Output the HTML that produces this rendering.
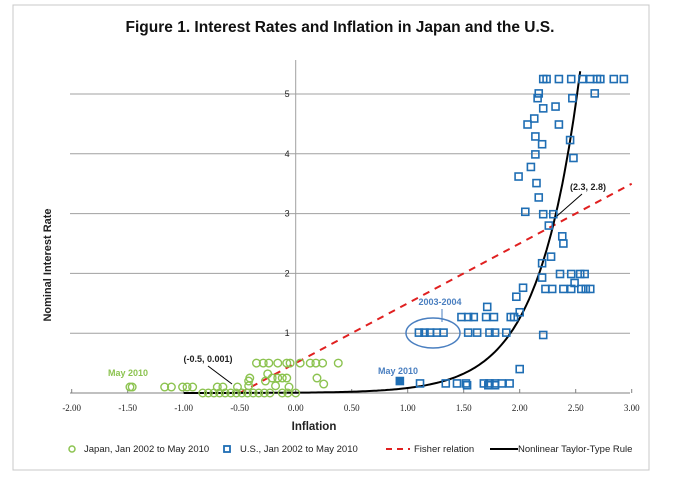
<!DOCTYPE html>
<html><head><meta charset="utf-8"><style>
body{margin:0;background:#fff;}
svg{display:block;font-family:"Liberation Sans",sans-serif;}
</style></head><body>
<svg width="677" height="481" viewBox="0 0 677 481">
<rect x="13" y="5" width="636" height="465" fill="#fff" stroke="#c8c8c8"/>
<text x="340" y="32" text-anchor="middle" font-size="15.5" font-weight="bold" fill="#111">Figure 1.  Interest Rates and Inflation in Japan and the U.S.</text>
<g id="grid"></g>
<g id="axes"></g>
<g id="lines"></g>
<g id="pts"></g>
<text transform="translate(51,265) rotate(-90)" text-anchor="middle" font-size="11" font-weight="bold" fill="#222">Nominal Interest Rate</text>
<text x="314" y="430" text-anchor="middle" font-size="11.5" font-weight="bold" fill="#222">Inflation</text>
<g font-size="9" fill="#222">
<text x="128" y="376" text-anchor="middle" fill="#8cc350" font-weight="bold">May 2010</text>
<text x="208" y="362" text-anchor="middle" font-weight="bold">(-0.5, 0.001)</text>
<line x1="208" y1="366" x2="232" y2="384" stroke="#000"/>
<text x="398" y="374" text-anchor="middle" fill="#4a7fc0" font-weight="bold">May 2010</text>
<text x="440" y="305" text-anchor="middle" fill="#4a7fc0" font-weight="bold">2003-2004</text>
<line x1="442" y1="309" x2="442" y2="322" stroke="#4a7fc0"/>
<ellipse cx="433" cy="333" rx="27" ry="15" fill="none" stroke="#4a7fc0" stroke-width="1.5"/>
<text x="588" y="190" text-anchor="middle" font-weight="bold">(2.3, 2.8)</text>
<line x1="582" y1="194" x2="557" y2="216" stroke="#000"/>
</g>
<g font-size="9.5" fill="#222">
<circle cx="72" cy="449" r="3" fill="none" stroke="#8cc350" stroke-width="1.5"/>
<text x="84" y="452">Japan, Jan 2002 to May 2010</text>
<rect x="224" y="446" width="6" height="6" fill="none" stroke="#1f6eb4" stroke-width="1.8"/>
<text x="240" y="452">U.S., Jan 2002 to May 2010</text>
<line x1="386" y1="449" x2="410" y2="449" stroke="#e02020" stroke-width="2" stroke-dasharray="6,5"/>
<text x="414" y="452">Fisher relation</text>
<line x1="490" y1="449" x2="518" y2="449" stroke="#000" stroke-width="2"/>
<text x="518" y="452">Nonlinear Taylor-Type Rule</text>
</g>
</svg>
<script>
const xTicks=[-2,-1.5,-1,-0.5,0,0.5,1,1.5,2,2.5,3];
const xTickLabels=["-2.00","-1.50","-1.00","-0.50","0.00","0.50","1.00","1.50","2.00","2.50","3.00"];
const yTicks=[0,1,2,3,4,5];
const japanX=[-0.35,-0.29,-0.24,-0.16,-0.08,-0.05,0.04,0.13,0.18,0.24,0.38,-1.48,-1.46,-1.17,-1.11,-1.01,-0.97,-0.92,-0.70,-0.65,-0.52,-0.42,-0.18,-0.06,-0.83,-0.78,-0.73,-0.68,-0.63,-0.58,-0.53,-0.48,-0.43,-0.38,-0.33,-0.28,-0.23,-0.12,-0.07,0.00,-0.41,-0.21,-0.16,-0.12,-0.08,0.19,-0.25,0.25,-0.42,-0.27];
const japanY=[0.5,0.5,0.5,0.5,0.5,0.5,0.5,0.5,0.5,0.5,0.5,0.1,0.1,0.1,0.1,0.1,0.1,0.1,0.1,0.1,0.1,0.12,0.12,0.1,0,0,0,0,0,0,0,0,0,0,0,0,0,0,0,0,0.25,0.25,0.25,0.25,0.25,0.25,0.32,0.15,0.2,0.2];
const usX=[2.21,2.24,2.35,2.46,2.56,2.63,2.69,2.72,2.84,2.93,2.17,2.67,2.16,2.47,2.21,2.32,2.13,2.07,2.35,2.14,2.45,2.20,2.14,2.48,2.10,1.99,2.15,2.17,2.05,2.21,2.30,2.26,2.38,2.39,2.28,2.20,2.36,2.46,2.54,2.58,2.20,2.49,2.23,2.29,2.39,2.46,2.55,2.59,2.63,2.03,1.97,1.71,2.00,1.48,1.54,1.59,1.70,1.77,1.92,1.95,1.10,1.15,1.20,1.26,1.32,1.54,1.62,1.73,1.78,1.88,2.21,2.00,0.93,1.11,1.34,1.44,1.52,1.68,1.73,1.78,1.84,1.91,1.53,1.72,1.78];
const usY=[5.25,5.25,5.25,5.25,5.25,5.25,5.25,5.25,5.25,5.25,5.01,5.01,4.93,4.93,4.76,4.79,4.59,4.49,4.49,4.29,4.23,4.16,3.99,3.93,3.78,3.62,3.51,3.27,3.03,2.99,2.99,2.8,2.62,2.5,2.28,2.17,1.99,1.99,1.99,1.99,1.93,1.84,1.74,1.74,1.74,1.74,1.74,1.74,1.74,1.76,1.61,1.44,1.35,1.27,1.27,1.27,1.27,1.27,1.27,1.27,1.01,1.01,1.01,1.01,1.01,1.01,1.01,1.01,1.01,1.01,0.97,0.4,0.2,0.16,0.16,0.16,0.16,0.16,0.16,0.16,0.16,0.16,0.13,0.13,0.13];
const fisherX=[-0.5,3];
const taylorA=0.00038, taylorB=2.7;
const NS="http://www.w3.org/2000/svg";
const sx=v=>295.7+v*112, sy=v=>393-v*59.8;
function mk(t,a,p){const e=document.createElementNS(NS,t);for(const k in a)e.setAttribute(k,a[k]);p.appendChild(e);return e;}
const grid=document.getElementById('grid'),axes=document.getElementById('axes'),lines=document.getElementById('lines'),pts=document.getElementById('pts');
yTicks.forEach(t=>{if(t===0)return;const l=mk('line',{x1:70,x2:630,y1:sy(t),y2:sy(t),stroke:'#a0a0a0'},grid);


const tx=mk('text',{x:sx(0)-6,y:sy(t)+3,'text-anchor':'end','font-size':9,fill:'#222'},axes);tx.textContent=t;

});
mk('line',{x1:sx(0),x2:sx(0),y1:60,y2:393,stroke:'#a0a0a0'},axes);
mk('line',{x1:70,x2:630,y1:393,y2:393,stroke:'#808080'},axes);
xTicks.forEach((t,i)=>{mk('line',{x1:sx(t),x2:sx(t),y1:389,y2:393,stroke:'#808080'},axes);
const tx=mk('text',{x:sx(t),y:411,'text-anchor':'middle','font-size':9,fill:'#222','font-family':'Liberation Serif'},axes);tx.textContent=xTickLabels[i];

});
const fl=mk('line',{x1:sx(fisherX[0]),y1:sy(fisherX[0]+0.5),x2:sx(fisherX[1]),y2:sy(fisherX[1]+0.5),stroke:'#e02020','stroke-width':2,'stroke-dasharray':'7,6'},lines);


let d='';for(let x=-1;x<=2.6;x+=0.02){const y=taylorA*(Math.exp(taylorB*(x+1))-1);if(y>5.5)break;d+=(d?'L':'M')+sx(x).toFixed(1)+','+sy(y).toFixed(1);}
const tl=mk('path',{d:d,fill:'none',stroke:'#000','stroke-width':2},lines);


japanX.forEach((x,i)=>{const c=mk('circle',{cx:sx(x),cy:sy(japanY[i]),r:3.8,fill:'none',stroke:'#8cc350','stroke-width':1.4},pts);

});
usX.forEach((x,i)=>{const r=mk('rect',{x:sx(x)-3.5,y:sy(usY[i])-3.5,width:7,height:7,fill:i===72?'#1f6eb4':'none',stroke:'#1f6eb4','stroke-width':1.6},pts);

});
</script>
</body></html>
